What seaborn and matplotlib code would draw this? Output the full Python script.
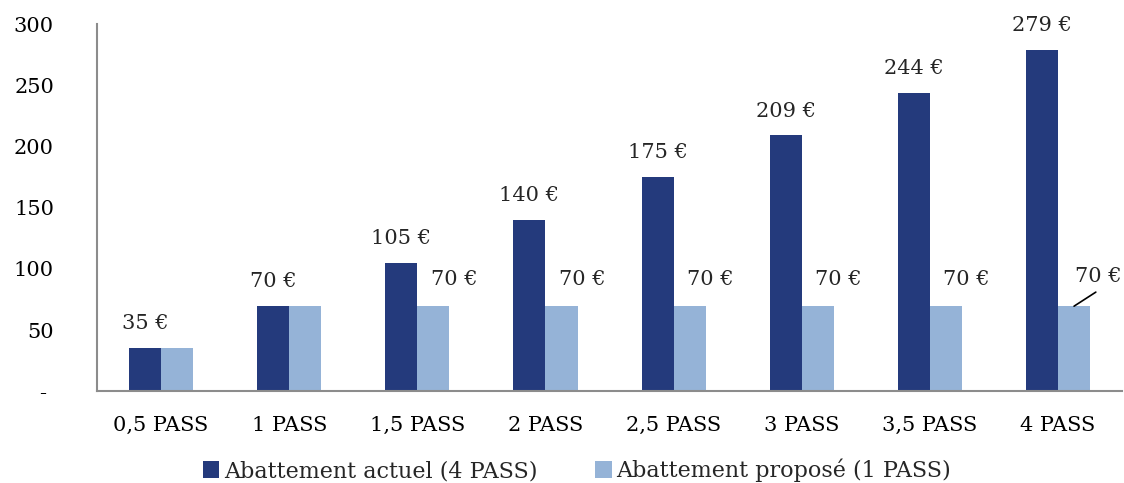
import pandas as pd
import matplotlib.pyplot as plt
import seaborn as sns

categories = ["0,5 PASS", "1 PASS", "1,5 PASS", "2 PASS", "2,5 PASS", "3 PASS", "3,5 PASS", "4 PASS"]
actuel = [35, 70, 105, 140, 175, 209, 244, 279]
propose = [35, 70, 70, 70, 70, 70, 70, 70]
series = ["Abattement actuel (4 PASS)", "Abattement proposé (1 PASS)"]
colors = ["#243A7C", "#95B3D7"]

df = pd.DataFrame({
    "cat": categories * 2,
    "val": actuel + propose,
    "serie": [series[0]] * len(categories) + [series[1]] * len(categories),
})

sns.set_style("white")
plt.rcParams["font.family"] = ["DejaVu Serif"]
fs = 15

fig = plt.figure(figsize=(11.24, 4.83), dpi=100)
ax = fig.add_axes([0.0863, 0.19, 0.912, 0.76])

sns.barplot(data=df, x="cat", y="val", hue="serie", palette=colors,
            width=0.5, saturation=1, linewidth=0, ax=ax)

ax.set_ylim(0, 300)
ax.set_xlim(-0.5, len(categories) - 0.5)
ax.set_yticks([0, 50, 100, 150, 200, 250, 300])
ax.set_yticklabels(["- ", "50", "100", "150", "200", "250", "300"])
ax.set_xlabel("")
ax.set_ylabel("")

# ticks between categories
ax.set_xticks([i - 0.5 for i in range(len(categories) + 1)], minor=True)
ax.tick_params(axis="x", which="major", length=0, pad=18, labelsize=fs)
ax.tick_params(axis="x", which="minor", length=7, width=1.5, color="#8c8c8c", direction="out")
ax.tick_params(axis="y", length=7, width=1.5, color="#8c8c8c", direction="out", pad=24, labelsize=fs)
ax.tick_params(axis="both", labelcolor="black")

for side in ["top", "right"]:
    ax.spines[side].set_visible(False)
for side in ["left", "bottom"]:
    ax.spines[side].set_color("#8c8c8c")
    ax.spines[side].set_linewidth(1.5)

# value labels
dark, light = ax.containers[0], ax.containers[1]
for bar, v in zip(dark, actuel):
    ax.text(bar.get_x() + bar.get_width() / 2, v + 20, f"{v} €",
            ha="center", va="center", fontsize=fs)
for i, (bar, v) in enumerate(zip(light, propose)):
    if i < 2:
        continue
    cx = bar.get_x() + bar.get_width() / 2
    if i == len(propose) - 1:
        ax.text(cx + 0.19, v + 24, f"{v} €", ha="center", va="center", fontsize=fs)
        ax.plot([cx, cx + 0.17], [v - 0.5, v + 11], color="black", lw=1.2)
    else:
        ax.text(cx + 0.16, v + 21, f"{v} €", ha="center", va="center", fontsize=fs)

ax.legend(loc="upper center", bbox_to_anchor=(0.468, -0.16), ncol=2, frameon=False,
          fontsize=16, handlelength=0.75, handleheight=0.75, handletextpad=0.2,
          columnspacing=2.6, borderaxespad=0)

plt.savefig("out.png", dpi=100)
plt.close()
